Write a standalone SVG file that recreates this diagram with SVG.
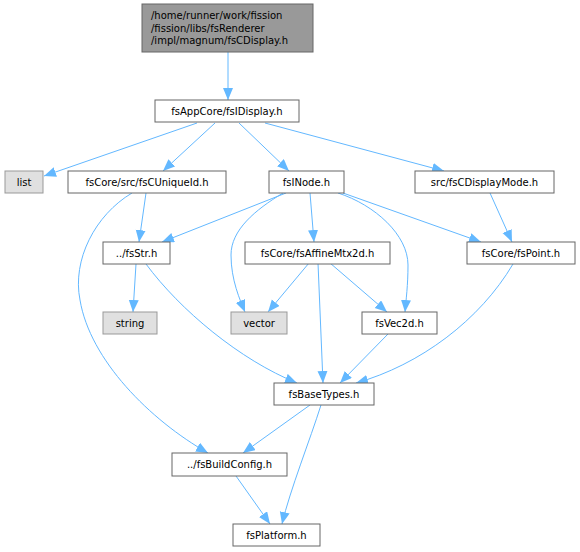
<svg xmlns="http://www.w3.org/2000/svg" width="580" height="552" viewBox="0 0 580 552">
<defs>
<marker id="arr" markerUnits="userSpaceOnUse" markerWidth="13" markerHeight="11" refX="12" refY="5" orient="auto">
<path d="M0,0 L12,5 L0,10 z" fill="#63b8ff" stroke="none"/>
</marker>
<style>
.n rect{fill:#ffffff;stroke:#666666;stroke-width:1}
.g rect{fill:#e0e0e0;stroke:#999999;stroke-width:1}
.t rect{fill:#999999;stroke:#666666;stroke-width:1}
text{font-family:"DejaVu Sans","Liberation Sans",sans-serif;font-size:10px;fill:#000000;text-anchor:middle}
.t text{text-anchor:start}
#edges path{fill:none;stroke:#63b8ff;stroke-width:1;marker-end:url(#arr)}
</style>
</defs>
<rect width="580" height="552" fill="#ffffff"/>
<g id="edges">
<path d="M228,52 L228,100"/>
<path d="M197,123 L44,176"/>
<path d="M215,123 L163,171"/>
<path d="M239,123 L289,171"/>
<path d="M265,123 L444,171"/>
<path d="M146,193 L139,242"/>
<path d="M132,193 C95,215 72,260 80,300 C90,360 150,420 208,453"/>
<path d="M286,193 L162,242"/>
<path d="M283,193 C255,210 231,230 231,255 C231,280 240,300 245,312"/>
<path d="M310,193 L314,242"/>
<path d="M338,193 C375,205 408,235 408,265 C408,285 406,300 405,312"/>
<path d="M343,193 L481,242"/>
<path d="M490,193 L512,242"/>
<path d="M136,264 L133,312"/>
<path d="M146,264 C180,310 240,360 297,383"/>
<path d="M309,263 L268,312"/>
<path d="M318,263 L323,383"/>
<path d="M330,263 L387,312"/>
<path d="M388,334 L340,383"/>
<path d="M513,264 C480,320 420,365 356,383"/>
<path d="M310,405 L243,453"/>
<path d="M321,405 C310,440 290,490 282,524"/>
<path d="M236,476 L270,524"/>
</g>
<g id="fsCDisplay" class="t"><rect x="142" y="4" width="171" height="48"/><text x="151" y="19">/home/runner/work/fission</text><text x="151" y="31.5">/fission/libs/fsRenderer</text><text x="151" y="44">/impl/magnum/fsCDisplay.h</text></g>
<g id="fsIDisplay" class="n"><rect x="155" y="100" width="144" height="22"/><text x="227" y="114.5">fsAppCore/fsIDisplay.h</text></g>
<g id="list" class="g"><rect x="5" y="171" width="38" height="22"/><text x="24" y="185.5">list</text></g>
<g id="fsCUniqueId" class="n"><rect x="68" y="171" width="158" height="22"/><text x="147" y="185.5">fsCore/src/fsCUniqueId.h</text></g>
<g id="fsINode" class="n"><rect x="269" y="171" width="75" height="22"/><text x="306.5" y="185.5">fsINode.h</text></g>
<g id="fsCDisplayMode" class="n"><rect x="415" y="171" width="139" height="22"/><text x="484.5" y="185.5">src/fsCDisplayMode.h</text></g>
<g id="fsStr" class="n"><rect x="103" y="242" width="67" height="22"/><text x="136.5" y="256.5">../fsStr.h</text></g>
<g id="fsAffineMtx2d" class="n"><rect x="245" y="242" width="145" height="22"/><text x="317.5" y="256.5">fsCore/fsAffineMtx2d.h</text></g>
<g id="fsPoint" class="n"><rect x="467" y="242" width="108" height="22"/><text x="521" y="256.5">fsCore/fsPoint.h</text></g>
<g id="string" class="g"><rect x="103" y="312" width="54" height="22"/><text x="130" y="326.5">string</text></g>
<g id="vector" class="g"><rect x="231" y="312" width="56" height="22"/><text x="259" y="326.5">vector</text></g>
<g id="fsVec2d" class="n"><rect x="362" y="312" width="75" height="22"/><text x="399.5" y="326.5">fsVec2d.h</text></g>
<g id="fsBaseTypes" class="n"><rect x="274" y="383" width="100" height="22"/><text x="324" y="397.5">fsBaseTypes.h</text></g>
<g id="fsBuildConfig" class="n"><rect x="172" y="453" width="115" height="23"/><text x="229.5" y="468">../fsBuildConfig.h</text></g>
<g id="fsPlatform" class="n"><rect x="233" y="524" width="87" height="22"/><text x="276.5" y="538.5">fsPlatform.h</text></g>
</svg>
